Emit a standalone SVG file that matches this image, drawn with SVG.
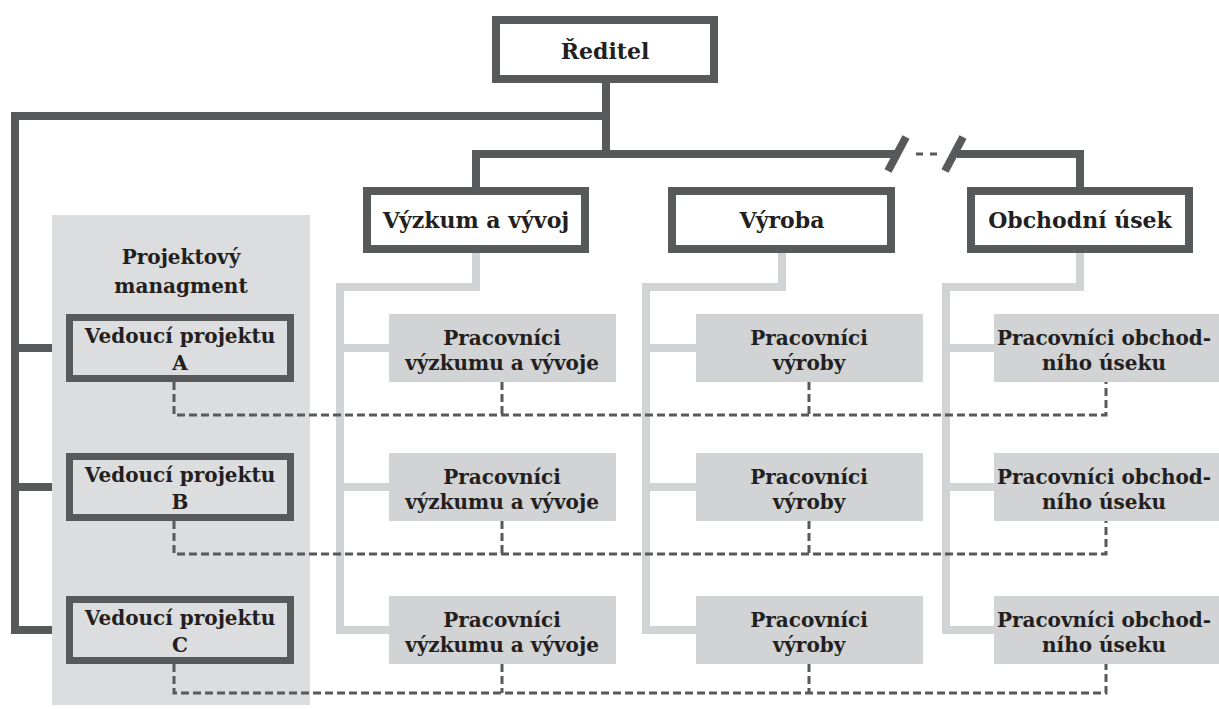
<svg xmlns="http://www.w3.org/2000/svg" width="1219" height="709" viewBox="0 0 1219 709">
  <style>
    .txt { font-family: "DejaVu Serif", "Liberation Serif", serif; font-weight: bold; fill: #231f20; text-anchor: middle; }
    .main { font-size: 22px; }
    .sub { font-size: 20px; }
    .box { fill: #ffffff; stroke: #58595b; stroke-width: 8; }
    .lead { fill: none; stroke: #58595b; stroke-width: 7; }
    .worker { fill: #d1d3d4; }
    .dark { fill: none; stroke: #58595b; stroke-width: 8; stroke-linejoin: miter; }
    .light { fill: none; stroke: #d1d3d4; stroke-width: 8; stroke-linejoin: miter; }
    .dash { fill: none; stroke: #58595b; stroke-width: 3; stroke-dasharray: 8 4; }
  </style>

  <!-- project management panel background -->
  <rect id="panel" x="52" y="215" width="258" height="490" fill="#dcdddf"/>

  <g id="connectors">
    <!-- director line and department bus -->
    <path class="dark" d="M606,83 V154"/>
    <path class="dark" d="M476,191 V154 H897"/>
    <path class="dark" d="M957,154 H1080 V191"/>
    <path class="dark" d="M888,171 L906,137"/>
    <path class="dark" d="M945,171 L963,137"/>
    <path fill="none" stroke="#58595b" stroke-width="3" d="M916,154 H923 M930,154 H937"/>
    <!-- director to project managers -->
    <path class="dark" d="M606,116 H15 V630 H52"/>
    <path class="dark" d="M15,348 H52 M15,487 H52"/>
    <!-- departments to their workers -->
    <path class="light" d="M476,253 V287 H340 V630 H389 M340,348 H389 M340,487 H389"/>
    <path class="light" d="M782,253 V287 H646 V630 H696 M646,348 H696 M646,487 H696"/>
    <path class="light" d="M1080,253 V287 H946 V630 H994 M946,348 H994 M946,487 H994"/>
    <!-- project links -->
    <path class="dash" d="M174,382 V415 H1106 V382 M502,382 V415 M809,382 V415"/>
    <path class="dash" d="M174,521 V554 H1106 V521 M502,521 V554 M809,521 V554"/>
    <path class="dash" d="M174,664 V693 H1106 V664 M502,664 V693 M809,664 V693"/>
  </g>

  <g id="reditel">
    <rect class="box" x="496" y="20" width="218" height="59"/>
    <text class="txt main" x="605" y="59">Ředitel</text>
  </g>
  <g id="vyzkum">
    <rect class="box" x="367" y="191" width="218" height="58"/>
    <text class="txt main" x="476" y="228">Výzkum a vývoj</text>
  </g>
  <g id="vyroba">
    <rect class="box" x="672" y="191" width="219" height="58"/>
    <text class="txt main" x="782" y="228">Výroba</text>
  </g>
  <g id="obchod">
    <rect class="box" x="971" y="191" width="218" height="58"/>
    <text class="txt main" x="1080" y="228">Obchodní úsek</text>
  </g>

  <g id="pm-title">
    <text class="txt sub" x="181" y="264">Projektový</text>
    <text class="txt sub" x="181" y="293">managment</text>
  </g>

  <g id="vedouci-a">
    <rect class="lead" x="69.5" y="317.5" width="221" height="61"/>
    <text class="txt sub" x="180" y="343">Vedoucí projektu</text>
    <text class="txt sub" x="180" y="370">A</text>
  </g>
  <g id="vedouci-b">
    <rect class="lead" x="69.5" y="456.5" width="221" height="61"/>
    <text class="txt sub" x="180" y="482">Vedoucí projektu</text>
    <text class="txt sub" x="180" y="509">B</text>
  </g>
  <g id="vedouci-c">
    <rect class="lead" x="69.5" y="599.5" width="221" height="61"/>
    <text class="txt sub" x="180" y="625">Vedoucí projektu</text>
    <text class="txt sub" x="180" y="652">C</text>
  </g>

  <g id="vyzkum-1">
    <rect class="worker" x="389" y="314" width="227" height="68"/>
    <text class="txt sub" x="502" y="345">Pracovníci</text>
    <text class="txt sub" x="502" y="370">výzkumu a vývoje</text>
  </g>
  <g id="vyzkum-2">
    <rect class="worker" x="389" y="453" width="227" height="68"/>
    <text class="txt sub" x="502" y="484">Pracovníci</text>
    <text class="txt sub" x="502" y="509">výzkumu a vývoje</text>
  </g>
  <g id="vyzkum-3">
    <rect class="worker" x="389" y="596" width="227" height="68"/>
    <text class="txt sub" x="502" y="627">Pracovníci</text>
    <text class="txt sub" x="502" y="652">výzkumu a vývoje</text>
  </g>

  <g id="vyroba-1">
    <rect class="worker" x="696" y="314" width="227" height="68"/>
    <text class="txt sub" x="809" y="345">Pracovníci</text>
    <text class="txt sub" x="809" y="370">výroby</text>
  </g>
  <g id="vyroba-2">
    <rect class="worker" x="696" y="453" width="227" height="68"/>
    <text class="txt sub" x="809" y="484">Pracovníci</text>
    <text class="txt sub" x="809" y="509">výroby</text>
  </g>
  <g id="vyroba-3">
    <rect class="worker" x="696" y="596" width="227" height="68"/>
    <text class="txt sub" x="809" y="627">Pracovníci</text>
    <text class="txt sub" x="809" y="652">výroby</text>
  </g>

  <g id="obchod-1">
    <rect class="worker" x="994" y="314" width="227" height="68"/>
    <text class="txt sub" x="1104" y="345">Pracovníci obchod-</text>
    <text class="txt sub" x="1104" y="370">ního úseku</text>
  </g>
  <g id="obchod-2">
    <rect class="worker" x="994" y="453" width="227" height="68"/>
    <text class="txt sub" x="1104" y="484">Pracovníci obchod-</text>
    <text class="txt sub" x="1104" y="509">ního úseku</text>
  </g>
  <g id="obchod-3">
    <rect class="worker" x="994" y="596" width="227" height="68"/>
    <text class="txt sub" x="1104" y="627">Pracovníci obchod-</text>
    <text class="txt sub" x="1104" y="652">ního úseku</text>
  </g>
</svg>
